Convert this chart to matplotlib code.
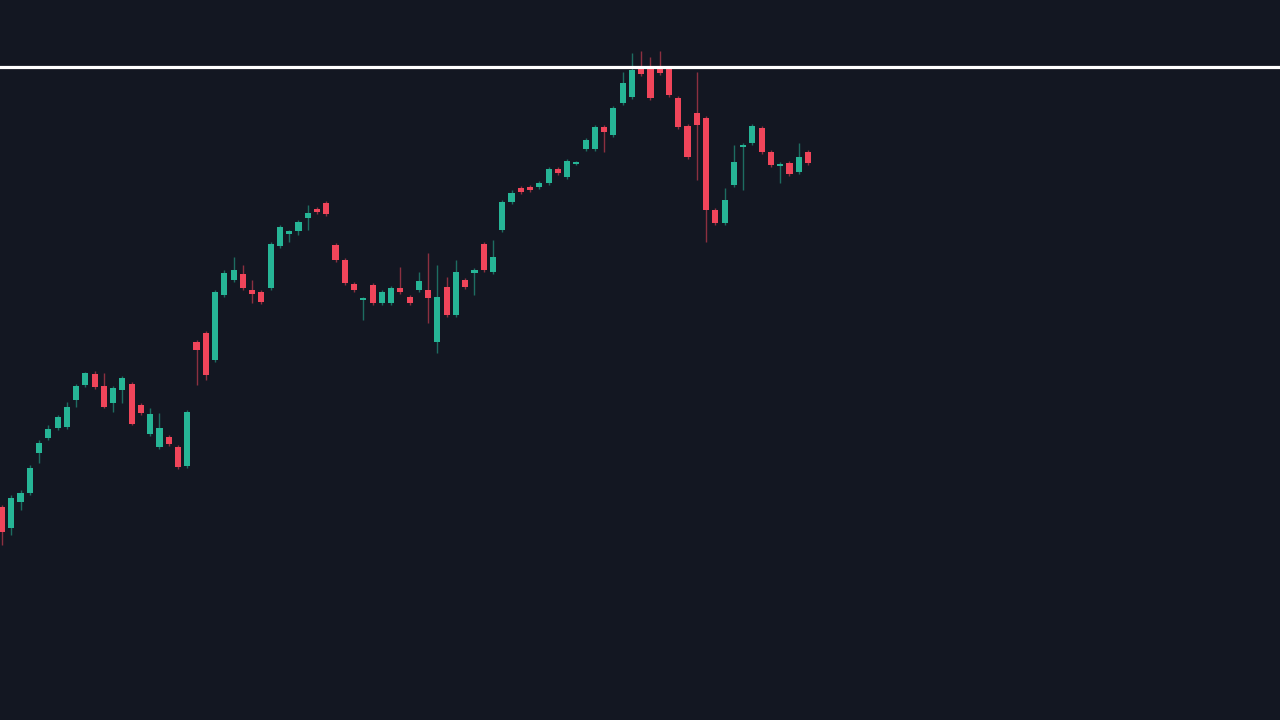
import matplotlib
matplotlib.use("Agg")
import matplotlib.pyplot as plt
import numpy as np

# OHLC data (price units), one candle per session
opens = [213,192,218,227,267,282,292,293,320,335,346,334,317,330,336,315,286,273,283,273,
         254,378,387,360,425,440,446,430,428,432,474,486,489,502,511,517,475,460,436,420,
         435,417,417,432,423,430,430,378,433,405,440,447,476,448,490,518,532,533,533,537,
         551,543,556,571,571,593,585,617,623,652,652,653,652,622,594,607,602,510,497,535,
         573,577,592,568,554,557,548,568]
highs = [215,225,230,255,280,295,305,318,336,348,349,347,334,344,338,317,312,307,285,275,
         310,380,389,430,450,463,455,440,430,478,495,490,500,515,513,519,477,462,438,423,
         437,430,434,453,425,448,467,455,443,460,442,452,478,480,520,530,534,535,539,553,
         553,561,559,582,595,595,614,648,667,669,663,669,654,624,596,648,604,512,532,575,
         577,596,594,570,558,559,577,570]
lows = [175,185,210,225,257,280,290,291,313,333,331,312,308,317,295,305,284,271,274,251,
        252,335,340,358,423,438,430,417,416,430,472,478,485,490,506,504,458,435,428,400,
        415,415,415,426,415,428,397,367,403,403,431,425,448,446,488,516,526,528,531,535,
        545,541,555,569,569,568,583,615,621,644,620,645,623,591,561,540,478,495,495,533,
        530,575,566,553,537,544,546,555]
closes = [188,222,227,252,277,291,303,313,334,347,333,313,332,342,296,307,306,292,276,253,
          308,370,345,428,447,450,432,426,418,476,493,489,498,507,508,506,460,437,430,422,
          417,428,432,428,417,439,422,423,405,448,433,450,450,463,518,527,528,530,537,551,
          547,559,558,580,593,588,612,637,650,646,622,647,625,593,563,595,510,497,520,558,
          575,594,568,555,556,546,563,557]
resistance = 653

BG = "#131722"
UP = "#26b596"
DOWN = "#f0455a"

fig = plt.figure(figsize=(12.8, 7.2), dpi=100, facecolor=BG)
ax = fig.add_axes([0, 0, 1, 1])
ax.set_facecolor(BG)

o = np.array(opens, float)
h = np.array(highs, float)
l = np.array(lows, float)
c = np.array(closes, float)
x = np.arange(len(o))
up = c >= o
colors = np.where(up, UP, DOWN)

ax.vlines(x, l, h, colors=colors, linewidth=1.0, alpha=0.55, zorder=2)
body_bottom = np.minimum(o, c)
body_h = np.maximum(np.abs(c - o), 1.5)
ax.bar(x, body_h, bottom=body_bottom, width=0.66, color=colors, linewidth=0, zorder=3)

ax.axhline(resistance, color="white", linewidth=2.3, zorder=4)

ax.set_xlim(-0.216, 137.95)
ax.set_ylim(0, 720)
ax.axis("off")

fig.savefig("out.png", dpi=100, facecolor=BG)
